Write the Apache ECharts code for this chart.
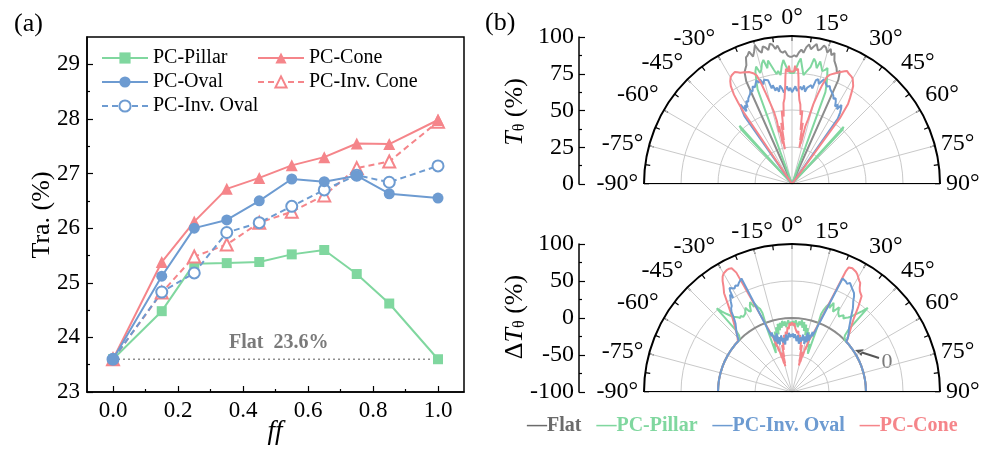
<!DOCTYPE html>
<html><head><meta charset="utf-8">
<script src="https://cdn.jsdelivr.net/npm/echarts@6/dist/echarts.min.js"></script>
<style>html,body{margin:0;padding:0;background:#fff}#c{width:990px;height:450px}</style>
</head><body><div id="c"></div>
<script>
// ---------- (a) transmission vs fill factor ----------
const ffValues   = [0, 0.15, 0.25, 0.35, 0.45, 0.55, 0.65, 0.75, 0.85, 1.0];
const pillarTra  = [23.6, 24.48, 25.35, 25.36, 25.38, 25.52, 25.6, 25.16, 24.62, 23.6];
const ovalTra    = [23.6, 25.12, 26.0, 26.15, 26.5, 26.9, 26.85, 26.96, 26.63, 26.55];
const coneTra    = [23.6, 25.38, 26.12, 26.72, 26.92, 27.15, 27.3, 27.55, 27.54, 27.98];
const invConeTra = [23.6, 24.82, 25.48, 25.7, 26.1, 26.3, 26.6, 27.1, 27.22, 27.95];
const invOvalTra = [23.6, 24.83, 25.18, 25.92, 26.1, 26.4, 26.7, 26.97, 26.84, 27.14];
const flatRefFf  = [0, 1.0];
const flatRefTra = [23.6, 23.6];
const xTicks = [0, 0.2, 0.4, 0.6, 0.8, 1.0];
const xMinorTicks = [0.1, 0.3, 0.5, 0.7, 0.9];
const yTicks = [23, 24, 25, 26, 27, 28, 29];
const yMinorTicks = [23.5, 24.5, 25.5, 26.5, 27.5, 28.5];

// ---------- (b) top: T_theta (%) vs angle ----------
const flatTopAngle = [-25,-24,-23,-22,-21,-20,-19,-18,-17,-16,-15,-14,-13,-12,-11,-10,-9,-8,-7,-6,-5,-4,-3,-2,-1,0,1,2,3,4,5,6,7,8,9,10,11,12,13,14,15,16,17,18,19,20,21,22,23,24,25];
const flatTopT     = [0,76,82,84,86,91,92,94,90,93,97,93,91,95,94,92,96,95,92,94,90,89,90,87,86,86,87,86,89,91,89,93,95,92,94,96,92,93,96,95,92,95,91,93,88,86,84,81,83,77,0];

const pillarTopAngle = [-44,-43,-42,-41,-21,-20,-19,-18,-17,-16,-15,-14,-13,-12,-11,-10,-9,-8,-7,-6,-5,-4,-3,-2,-1,0,1,2,3,4,5,6,7,8,9,10,11,12,13,14,15,16,17,18,19,20,21,41,42,43,44];
const pillarTopT     = [0,50,53,0,0,68,74,80,83,78,80,84,86,80,85,86,78,75,77,74,80,84,80,77,75,76,75,78,82,85,79,74,76,75,80,86,84,80,85,84,79,80,82,77,72,66,0,0,52,50,0];

const invOvalTopAngle = [-36,-35,-34,-33,-32,-31,-30,-29,-28,-27,-26,-25,-24,-23,-22,-21,-20,-19,-18,-17,-16,-15,-14,-13,-12,-11,-10,-9,-8,-7,-6,-5,-4,-3,-2,-1,0,1,2,3,4,5,6,7,8,9,10,11,12,13,14,15,16,17,18,19,20,21,22,23,24,25,26,27,28,29,30,31,32,33,34,35,36];
const invOvalTopT     = [0,56,61,64,58,62,60,64,63,65,66,67,69,68,71,70,72,74,72,74,70,73,74,72,66,68,64,66,63,67,65,62,64,66,63,65,62,64,66,63,62,66,64,67,63,66,65,68,66,72,73,70,72,74,73,71,70,71,69,68,67,66,64,65,63,60,62,59,63,61,58,54,0];

const coneTopAngle = [-35,-34,-33.5,-33,-32,-31,-30,-29,-28,-27,-26,-25,-24,-23,-22,-21,-20,-19,-18,-17,-16,-15,-14,-13.5,-14,-12.5,-13,-12,-11.5,-11,-10.5,-10,-9,-8,-7,-6,-5,-4,-3.5,-3,-2,-1.5,-1,0,1,1.5,2,3,3.5,4,5,6,7,8,9,10,10.5,11,11.5,12,12.5,13,14,14.5,15,16,17,18,19,20,21,22,23,24,25,26,27,28,29,30,31,32,33,34,35,35.5,36,36.5];
const coneTopT     = [0,58,66,72,78,81,83,84,84,85,84,83,83,82,82,81,80,79,77,71,63,56,50,44,36,40,28,33,24,36,30,42,37,50,46,55,58,66,73,78,76,80,76,77,76,80,77,78,72,64,57,54,47,50,37,42,30,35,25,32,28,40,45,50,56,63,70,76,78,79,80,81,82,83,84,85,84,84,83,82,80,78,74,70,66,60,55,0];

// ---------- (b) bottom: Delta T_theta (%) vs angle ----------
const flatBotAngle = [-90,-85,-80,-75,-70,-65,-60,-55,-50,-45,-40,-35,-30,-25,-20,-15,-10,-5,0,5,10,15,20,25,30,35,40,45,50,55,60,65,70,75,80,85,90];
const flatBotDT    = [0,0,0,0,0,0,0,0,0,0,0,0,0,0,0,0,0,0,0,0,0,0,0,0,0,0,0,0,0,0,0,0,0,0,0,0,0];

const pillarBotAngle = [-90,-85,-80,-75,-70,-65,-60,-55,-50,-46,-44,-43,-42.3,-42,-41,-40,-39,-38,-37,-36,-35,-34,-33,-32,-31,-30,-29,-28,-27,-26,-25,-24,-23,-22,-21,-20.5,-21.5,-22.5,-21,-20,-19,-18,-17,-16,-15,-14,-13,-12,-11,-10,-9,-8,-7,-6,-5,-4,-3,-2,-1,0,1,2,3,4,5,6,7,8,9,10,11,12,13,14,15,16,17,18,19,20,21,22.5,21.5,20.5,21,22,23,24,25,26,27,28,29,30,31,32,33,34,35,36,37,38,39,40,41,42,42.3,43,44,46,50,55,60,65,70,75,80,85,90];
const pillarBotDT    = [0,0,0,0,0,0,0,0,0,0,2,5,12,52,44,38,33,29,27,25,22,24,21,20,23,26,30,24,22,30,34,26,30,24,20,14,-10,-43,-38,-30,-35,-22,-28,-15,-25,-10,-20,-6,-15,-5,-12,-3,-10,-4,-12,-6,-3,-10,-5,-8,-4,-11,-3,-7,-12,-4,-9,-2,-12,-4,-16,-7,-21,-11,-26,-16,-30,-24,-36,-31,-39,-44,-12,12,18,25,30,24,33,28,22,26,31,25,22,20,23,25,21,24,26,29,34,39,45,53,12,5,2,0,0,0,0,0,0,0,0,0,0];

const coneBotAngle = [-90,-85,-80,-75,-70,-65,-60,-55,-50,-47,-45,-43,-41,-38.5,-36,-34.5,-33,-32,-31,-30,-29,-28,-27,-26,-25.5,-25,-21,-20,-19,-18.5,-18,-17.5,-17,-16.5,-16,-15.5,-15,-14.5,-14,-13.5,-13,-12.5,-12,-11,-10,-9,-8,-7,-6,-5,-4,-3,-2,-1,0,1,2,3,4,5,6,7,8,9,10,11,12,12.5,13,13.5,14,14.5,15,15.5,16,16.5,17,17.5,18,19,20,21,24,24.5,26,27,28,29,30,31,32,33,34,36,38,40,42,44,46,47.5,50,55,60,65,70,75,80,85,90];
const coneBotDT    = [0,0,0,0,0,0,0,0,0,0,4,10,18,30,48,62,70,77,82,85,86,87,87,86,84,78,-5,-15,-22,-35,-28,-42,-36,-52,-45,-60,-50,-64,-52,-60,-45,-52,-35,-42,-28,-35,-22,-28,-18,-22,-12,-15,-7,-10,-6,-10,-7,-14,-12,-20,-17,-27,-22,-34,-28,-42,-35,-50,-44,-58,-50,-63,-52,-58,-44,-50,-36,-40,-27,-22,-15,-5,78,85,86,85,84,82,79,76,74,68,64,60,45,30,20,12,5,0,0,0,0,0,0,0,0,0,0];

const invOvalBotAngle = [-90,-85,-80,-75,-70,-65,-60,-55,-50,-46,-44.5,-43,-41.5,-39.5,-38,-37,-36,-35,-34,-33,-32.5,-32,-31.5,-31,-30,-29,-28,-27,-26,-25,-24,-21,-20,-19,-18,-17,-16,-15,-14,-13,-12,-11,-10,-9,-8,-7,-6,-5,-4,-3,-2,-1,0,1,2,3,4,5,6,7,8,9,10,11,12,13,14,15,16,17,18,19,20,21,24,25,26,27,28,29,30,31,32,33,34,35,36,38,40,42,44,46,47,50,55,60,65,70,75,80,85,90];
const invOvalBotDT    = [0,0,0,0,0,0,0,0,0,0,5,10,14,20,28,36,40,42,48,53,56,50,60,64,62,60,63,61,64,66,68,-10,-20,-15,-28,-20,-32,-18,-34,-24,-30,-22,-32,-26,-35,-28,-22,-30,-25,-20,-26,-22,-25,-21,-27,-22,-26,-31,-23,-29,-34,-25,-31,-21,-29,-23,-33,-17,-30,-19,-27,-14,-20,-10,68,68,66,64,67,66,62,60,58,54,48,44,40,30,22,15,10,5,0,0,0,0,0,0,0,0,0,0];

const baseAngle = [-90, 90];
const baseR = [100, 100];
const baseRBot = [100, 100];

// ---------- styles ----------
const SERIF = '"Liberation Serif", "Times New Roman", serif';
const GREEN = '#80d79f', BLUE = '#6d9bd1', RED = '#f5858a', GRAY = '#8c8c8c';
const GRID_GRAY = '#c9c9c9';

function pairs(xs, ys) { return ys.map((y, i) => [xs[i], y]); }
function polarData(angles, vals) { return vals.map((v, i) => [v, angles[i]]); }

const chart = echarts.init(document.getElementById('c'), null, {renderer: 'canvas'});

const tickLabelStyle = {fontSize: 23, fontFamily: SERIF, color: '#000'};

function angleAxisCfg(idx) {
  return {
    polarIndex: idx, type: 'value', min: -90, max: 90, interval: 15,
    startAngle: 180, endAngle: 0, clockwise: true,
    axisLine: {show: true, lineStyle: {color: '#000', width: 2}},
    axisTick: {show: true, inside: true, length: 5, lineStyle: {color: '#000', width: 1.2}},
    minorTick: {show: true, splitNumber: 2, length: 5, lineStyle: {color: '#000', width: 1.2}},
    axisLabel: {show: true, formatter: '{value}°', fontSize: 24, fontFamily: SERIF, color: '#000', margin: 6},
    splitLine: {show: true, lineStyle: {color: GRID_GRAY, width: 1}},
    minorSplitLine: {show: false}
  };
}
function radiusAxisCfg(idx, mn, mx, iv) {
  return {
    polarIndex: idx, type: 'value', min: mn, max: mx, interval: iv,
    axisLine: {show: false}, axisTick: {show: false}, axisLabel: {show: false},
    splitLine: {show: true, lineStyle: {color: GRID_GRAY, width: 1}}
  };
}
function polarLine(name, idx, angles, vals, color, z) {
  return {
    name, type: 'line', coordinateSystem: 'polar', polarIndex: idx,
    data: polarData(angles, vals), symbol: 'none', showSymbol: false, clip: false,
    lineStyle: {color, width: 2}, itemStyle: {color}, z: z, silent: true
  };
}
function sideAxisCfg(grid, mn, mx, iv) {
  return {
    gridIndex: grid, type: 'value', min: mn, max: mx, interval: iv, position: 'left',
    axisLine: {show: true, onZero: false, lineStyle: {color: '#000', width: 1.5}},
    axisTick: {show: true, inside: true, length: 6, lineStyle: {color: '#000', width: 1.2}},
    minorTick: {show: true, splitNumber: 2, length: 3, lineStyle: {color: '#000', width: 1.2}},
    axisLabel: {show: true, fontSize: 24, fontFamily: SERIF, color: '#000', margin: 5},
    splitLine: {show: false}
  };
}

const option = {
  animation: false,
  backgroundColor: '#fff',
  grid: [
    {left: 87, top: 37, width: 377, height: 355, show: true, borderColor: '#000', borderWidth: 1.5, backgroundColor: 'rgba(0,0,0,0)'},
    {left: 579, top: 37, width: 1, height: 147, show: false},
    {left: 579, top: 244, width: 1, height: 148, show: false}
  ],
  xAxis: [
    {gridIndex: 0, type: 'value', min: -0.08, max: 1.08, position: 'bottom',
     axisLine: {show: true, onZero: false, lineStyle: {color: '#000', width: 1.5}},
     axisTick: {show: true, inside: true, length: 6, customValues: xTicks, lineStyle: {color: '#000', width: 1.2}},
     axisLabel: Object.assign({customValues: xTicks, formatter: v => Number(v).toFixed(1), margin: 7}, tickLabelStyle),
     splitLine: {show: false}},
    {gridIndex: 0, type: 'value', min: -0.08, max: 1.08, position: 'bottom',
     axisLine: {show: false, onZero: false}, axisLabel: {show: false}, splitLine: {show: false},
     axisTick: {show: true, inside: true, length: 3, customValues: xMinorTicks, lineStyle: {color: '#000', width: 1.2}}},
    {gridIndex: 1, type: 'value', min: 0, max: 1, show: false},
    {gridIndex: 2, type: 'value', min: 0, max: 1, show: false}
  ],
  yAxis: [
    {gridIndex: 0, type: 'value', min: 23, max: 29.5, position: 'left',
     axisLine: {show: true, onZero: false, lineStyle: {color: '#000', width: 1.5}},
     axisTick: {show: true, inside: true, length: 6, customValues: yTicks, lineStyle: {color: '#000', width: 1.2}},
     axisLabel: Object.assign({customValues: yTicks, margin: 7}, tickLabelStyle),
     splitLine: {show: false}},
    {gridIndex: 0, type: 'value', min: 23, max: 29.5, position: 'left',
     axisLine: {show: false, onZero: false}, axisLabel: {show: false}, splitLine: {show: false},
     axisTick: {show: true, inside: true, length: 3, customValues: yMinorTicks, lineStyle: {color: '#000', width: 1.2}}},
    sideAxisCfg(1, 0, 100, 25),
    sideAxisCfg(2, -100, 100, 50)
  ],
  polar: [
    {center: [792, 184], radius: 148},
    {center: [792, 392], radius: 148}
  ],
  angleAxis: [angleAxisCfg(0), angleAxisCfg(1)],
  radiusAxis: [radiusAxisCfg(0, 0, 100, 25), radiusAxisCfg(1, -100, 100, 50)],
  legend: [
    {orient: 'vertical', left: 101, top: 46, padding: 0, itemWidth: 46, itemHeight: 14, itemGap: 0,
     selectedMode: false, data: ['PC-Pillar', 'PC-Oval', 'PC-Inv. Oval'],
     textStyle: {fontSize: 20, fontFamily: SERIF, color: '#000', lineHeight: 24}},
    {orient: 'vertical', left: 257, top: 46, padding: 0, itemWidth: 46, itemHeight: 14, itemGap: 0,
     selectedMode: false, data: ['PC-Cone', 'PC-Inv. Cone'],
     textStyle: {fontSize: 20, fontFamily: SERIF, color: '#000', lineHeight: 24}},
    {orient: 'horizontal', left: 522, top: 416, padding: 0, icon: 'rect', itemWidth: 0, itemHeight: 0, itemGap: 10,
     selectedMode: false, formatter: n => '—' + n.trim(),
     data: [
       {name: 'Flat', textStyle: {color: '#6b6b6b'}},
       {name: 'PC-Pillar ', textStyle: {color: GREEN}},
       {name: 'PC-Inv. Oval ', textStyle: {color: BLUE}},
       {name: 'PC-Cone ', textStyle: {color: RED}}
     ],
     textStyle: {fontSize: 20, fontWeight: 'bold', fontFamily: SERIF}}
  ],
  series: [
    {name: 'Flat ref', type: 'line', xAxisIndex: 0, yAxisIndex: 0, data: pairs(flatRefFf, flatRefTra),
     symbol: 'none', lineStyle: {color: '#8f8f8f', width: 1.5, type: [2, 3]}, z: 2, silent: true,
     markPoint: {symbol: 'circle', symbolSize: 0, silent: true,
       data: [{coord: [0.51, 23.6], label: {show: true, formatter: 'Flat  23.6%', offset: [0, -16],
         fontSize: 20, fontWeight: 'bold', fontFamily: SERIF, color: '#7a7a7a'}}]}},
    {name: 'PC-Pillar', type: 'line', xAxisIndex: 0, yAxisIndex: 0, data: pairs(ffValues, pillarTra),
     symbol: 'rect', symbolSize: 10, lineStyle: {color: GREEN, width: 2}, itemStyle: {color: GREEN}, z: 3},
    {name: 'PC-Inv. Cone', type: 'line', xAxisIndex: 0, yAxisIndex: 0, data: pairs(ffValues, invConeTra),
     symbol: 'emptyTriangle', symbolSize: 12, lineStyle: {color: RED, width: 2, type: [6, 4]},
     itemStyle: {color: RED, borderWidth: 1.5}, z: 3},
    {name: 'PC-Cone', type: 'line', xAxisIndex: 0, yAxisIndex: 0, data: pairs(ffValues, coneTra),
     symbol: 'triangle', symbolSize: 12, lineStyle: {color: RED, width: 2}, itemStyle: {color: RED}, z: 3},
    {name: 'PC-Inv. Oval', type: 'line', xAxisIndex: 0, yAxisIndex: 0, data: pairs(ffValues, invOvalTra),
     symbol: 'emptyCircle', symbolSize: 11, lineStyle: {color: BLUE, width: 2, type: [6, 4]},
     itemStyle: {color: BLUE, borderWidth: 1.5}, z: 3},
    {name: 'PC-Oval', type: 'line', xAxisIndex: 0, yAxisIndex: 0, data: pairs(ffValues, ovalTra),
     symbol: 'circle', symbolSize: 11, lineStyle: {color: BLUE, width: 2}, itemStyle: {color: BLUE}, z: 4},

    // polar top
    polarLine('Flat', 0, flatTopAngle, flatTopT, GRAY, 3),
    polarLine('PC-Pillar ', 0, pillarTopAngle, pillarTopT, GREEN, 3),
    polarLine('PC-Inv. Oval ', 0, invOvalTopAngle, invOvalTopT, BLUE, 3),
    polarLine('PC-Cone ', 0, coneTopAngle, coneTopT, RED, 3),
    {name: 'base top', type: 'line', coordinateSystem: 'polar', polarIndex: 0, data: polarData(baseAngle, baseR),
     symbol: 'none', clip: false, silent: true, lineStyle: {color: '#000', width: 2}, z: 5},
    // polar bottom
    polarLine('Flat', 1, flatBotAngle, flatBotDT, GRAY, 3),
    polarLine('PC-Pillar ', 1, pillarBotAngle, pillarBotDT, GREEN, 3),
    polarLine('PC-Cone ', 1, coneBotAngle, coneBotDT, RED, 3),
    polarLine('PC-Inv. Oval ', 1, invOvalBotAngle, invOvalBotDT, BLUE, 3),
    {name: 'base bottom', type: 'line', coordinateSystem: 'polar', polarIndex: 1, data: polarData(baseAngle, baseRBot),
     symbol: 'none', clip: false, silent: true, lineStyle: {color: '#000', width: 2}, z: 5}
  ],
  graphic: [
    {type: 'text', x: 14, y: 24, style: {text: '(a)', fontSize: 26, fontFamily: SERIF, fill: '#000', align: 'left', verticalAlign: 'middle'}},
    {type: 'text', x: 485, y: 23, style: {text: '(b)', fontSize: 26, fontFamily: SERIF, fill: '#000', align: 'left', verticalAlign: 'middle'}},
    {type: 'text', x: 42, y: 215, rotation: Math.PI / 2, style: {text: 'Tra. (%)', fontSize: 26, fontFamily: SERIF, fill: '#000', align: 'center', verticalAlign: 'middle'}},
    {type: 'text', x: 275, y: 432, style: {text: 'ff', fontSize: 27, fontStyle: 'italic', fontFamily: SERIF, fill: '#000', align: 'center', verticalAlign: 'middle'}},
    {type: 'text', x: 515, y: 112, rotation: Math.PI / 2,
     style: {text: '{i|T}{s|θ}{n| (%)}', fontSize: 26, fontFamily: SERIF, fill: '#000', align: 'center', verticalAlign: 'middle',
       rich: {i: {fontSize: 26, fontStyle: 'italic', fontFamily: SERIF, fill: '#000'},
              s: {fontSize: 16, fontFamily: SERIF, fill: '#000', verticalAlign: 'bottom', lineHeight: 12},
              n: {fontSize: 26, fontFamily: SERIF, fill: '#000'}}}},
    {type: 'text', x: 515, y: 317, rotation: Math.PI / 2,
     style: {text: '{n|Δ}{i|T}{s|θ}{n| (%)}', fontSize: 26, fontFamily: SERIF, fill: '#000', align: 'center', verticalAlign: 'middle',
       rich: {i: {fontSize: 26, fontStyle: 'italic', fontFamily: SERIF, fill: '#000'},
              s: {fontSize: 16, fontFamily: SERIF, fill: '#000', verticalAlign: 'bottom', lineHeight: 12},
              n: {fontSize: 26, fontFamily: SERIF, fill: '#000'}}}},
    {type: 'line', shape: {x1: 879, y1: 358, x2: 862, y2: 352.5}, style: {stroke: '#555', lineWidth: 2}},
    {type: 'polygon', shape: {points: [[855, 350], [863.7, 349.3], [861.4, 355.9]]}, style: {fill: '#555'}},
    {type: 'text', x: 887, y: 362, style: {text: '0', fontSize: 22, fontFamily: SERIF, fill: '#7a7a7a', align: 'center', verticalAlign: 'middle'}}
  ]
};
chart.setOption(option);
</script>
</body></html>
